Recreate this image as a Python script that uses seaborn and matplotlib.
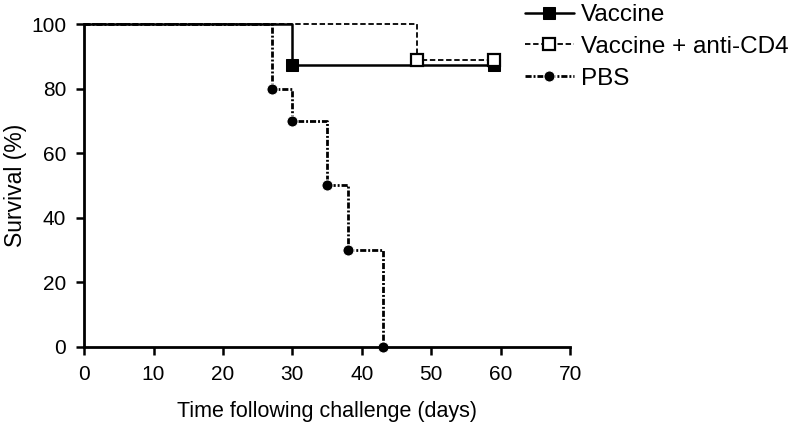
import numpy as np
import pandas as pd
import matplotlib
matplotlib.use("Agg")
import matplotlib.pyplot as plt
import seaborn as sns

# Kaplan-Meier style survival data (days, % survival)
vaccine_days = [0, 30, 59]
vaccine_surv = [100, 87.5, 87.5]

cd4_days = [0, 48, 59]
cd4_surv = [100, 88.9, 88.9]

pbs_days = [0, 27, 30, 35, 38, 43]
pbs_surv = [100, 80, 70, 50, 30, 0]

sns.set_style("ticks", {
    "text.color": "black",
    "axes.labelcolor": "black",
    "axes.edgecolor": "black",
    "xtick.color": "black",
    "ytick.color": "black",
})
plt.rcParams["font.family"] = ["Liberation Sans", "DejaVu Sans"]

fig = plt.figure(figsize=(7.93, 4.24), dpi=100)
ax = fig.add_axes([0.106, 0.182, 0.613, 0.761])

sns.lineplot(x=vaccine_days, y=vaccine_surv, estimator=None, sort=False,
             drawstyle="steps-post", color="black", linewidth=1.8,
             marker="s", markersize=8, markevery=[1, 2],
             markerfacecolor="black", markeredgecolor="black",
             label="Vaccine", ax=ax)

sns.lineplot(x=cd4_days, y=cd4_surv, estimator=None, sort=False,
             drawstyle="steps-post", color="black", linewidth=1.3,
             linestyle=(0, (3, 1.5)),
             marker="s", markersize=8, markevery=[1, 2],
             markerfacecolor="white", markeredgecolor="black", markeredgewidth=1.6,
             label="Vaccine + anti-CD4", ax=ax)

sns.lineplot(x=pbs_days, y=pbs_surv, estimator=None, sort=False,
             drawstyle="steps-post", color="black", linewidth=2.0,
             linestyle=(0, (2.2, 0.7, 0.7, 0.7)),
             marker="o", markersize=8, markevery=[1, 2, 3, 4, 5],
             label="PBS", ax=ax)

ax.set_xlim(0, 70)
ax.set_ylim(0, 100)
ax.set_xticks(np.arange(0, 71, 10))
ax.set_yticks(np.arange(0, 101, 20))
ax.tick_params(direction="out", length=6, width=1.8, labelsize=15, pad=7)
for side in ["left", "bottom"]:
    ax.spines[side].set_linewidth(2)
sns.despine(ax=ax)

ax.set_xlabel("Time following challenge (days)", fontsize=15.5, labelpad=12)
ax.set_ylabel("Survival (%)", fontsize=16.5, labelpad=3)

for line in ax.lines:
    line.set_clip_on(False)

ax.legend(loc="upper left", bbox_to_anchor=(0.662, 0.99),
          bbox_transform=fig.transFigure, frameon=False, borderpad=0,
          borderaxespad=0, fontsize=17.5, handlelength=2.0,
          handletextpad=0.3, labelspacing=0.4)

fig.savefig("out.png", dpi=100)
